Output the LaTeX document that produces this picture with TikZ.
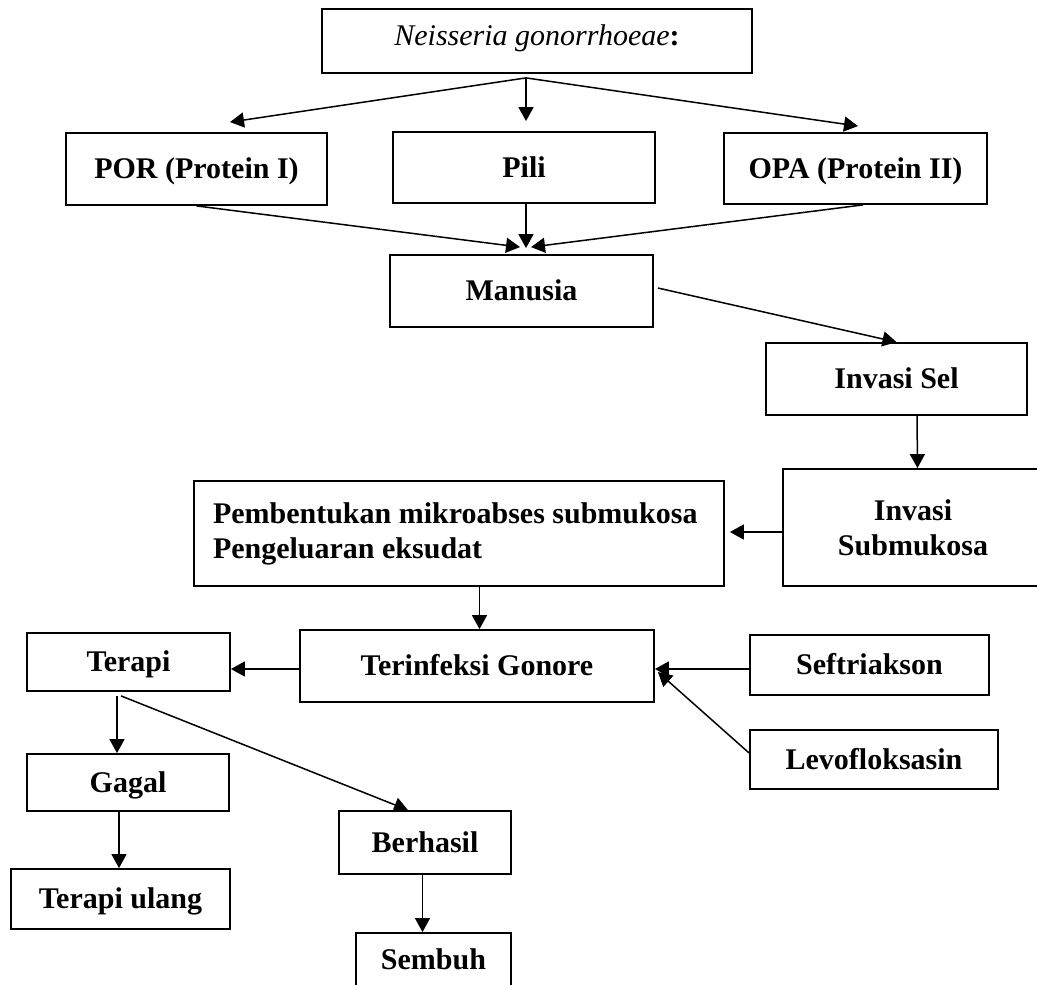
\documentclass[tikz,border=0pt]{standalone}
\usepackage{fontspec}
\setmainfont{Liberation Serif}
\usetikzlibrary{arrows.meta,calc}

\begin{document}
\begin{tikzpicture}[x=0.5pt,y=-0.5pt,
	box2/.style={draw,line width=0.9pt,inner sep=0pt,font=\fontsize{15}{17.5}\selectfont\bfseries},
	box/.style={box2,text height=13.5pt,text depth=3.6pt},
	arr/.style={line width=0.75pt,-{Triangle[length=7pt,width=7.5pt]}}]
	\useasboundingbox (0,0) rectangle (1037,984);

	\node[box,text depth=8.6pt,minimum width=215pt,minimum height=32pt] (neis) at (537,41) {{\mdseries\itshape Neisseria gonorrhoeae}:};
	\node[box,minimum width=130.5pt,minimum height=36pt] (por) at (196.5,169) {POR (Protein I)};
	\node[box,minimum width=131pt,minimum height=35.5pt] (pili) at (524,167.5) {Pili};
	\node[box,minimum width=131.5pt,minimum height=35.5pt] (opa) at (855.5,168.5) {OPA (Protein II)};
	\node[box,minimum width=131.5pt,minimum height=36pt] (manusia) at (521.5,291) {Manusia};
	\node[box,minimum width=130.5pt,minimum height=36pt] (invsel) at (896.5,379) {Invasi Sel};
	\node[box2,minimum width=130pt,minimum height=58.5pt,align=center] (invsub) at (913,527.5) {Invasi\\Submukosa};
	\node[box2,text width=246pt,inner xsep=9.5pt,minimum height=52.5pt,align=left] (pemb) at (459,533.5) {\spaceskip=0.25em Pembentukan mikroabses submukosa\\Pengeluaran eksudat};
	\node[box,minimum width=177pt,minimum height=36pt] (terinf) at (477,666) {Terinfeksi Gonore};
	\node[box,minimum width=101.5pt,minimum height=29pt] (terapi) at (128.5,662) {Terapi};
	\node[box,minimum width=119.5pt,minimum height=30pt] (seft) at (869.5,665) {Seftriakson};
	\node[box,minimum width=124pt,minimum height=29.5pt] (levo) at (874,759.5) {Levofloksasin};
	\node[box,minimum width=101pt,minimum height=28.5pt] (gagal) at (128,782.5) {Gagal};
	\node[box,minimum width=109.5pt,minimum height=30pt] (ulang) at (120.5,899) {Terapi ulang\hspace{7pt}};
	\node[box,minimum width=86pt,minimum height=31.5pt] (berhasil) at (425,842.5) {Berhasil\hspace{14.5pt}};
	\node[box,minimum width=77.5pt,minimum height=27pt] (sembuh) at (433.5,960) {Sembuh\hspace{8pt}};

	\coordinate (fork) at ($(neis.south)+(-11,4)$);
	\draw[arr] (fork) -- ($(por.north)+(33.5,-10)$);
	\draw[arr] (fork) -- ($(pili.north)+(2,-10)$);
	\draw[arr] (fork) -- ($(opa.north)+(2.5,-6)$);

	\draw[arr] (por.south) -- ($(manusia.north)+(-1.5,-7)$);
	\draw[arr] ($(pili.south)+(2,0)$) -- ($(manusia.north)+(4.5,-6)$);
	\draw[arr] ($(opa.south)+(7.5,0)$) -- ($(manusia.north)+(9.5,-7)$);
	\draw[arr] ($(manusia.east)+(4,-3)$) -- (invsel.north);
	\draw[arr] ($(invsel.south)+(20.5,0)$) -- ($(invsub.north)+(4.5,0)$);
	\draw[arr] ($(invsub.west)+(0,4.5)$) -- ($(pemb.east)+(5,-1.5)$);
	\draw[arr] ($(pemb.south)+(20.5,0)$) -- ($(terinf.north)+(2.5,0)$);
	\draw[arr] ($(terinf.west)+(0,3)$) -- ($(terapi.east)+(0,7)$);
	\draw[arr] ($(seft.west)+(0,4)$) -- ($(terinf.east)+(0,3)$);
	\draw[arr] ($(levo.west)+(0,-6.5)$) -- ($(terinf.east)+(3,6)$);

	\draw[arr] ($(terapi.south)+(-11.5,4)$) -- ($(gagal.north)+(-11,0)$);
	\draw[arr] ($(terapi.south)+(-7.5,4)$) -- ($(berhasil.north)+(-17,0)$);
	\draw[arr] ($(gagal.south)+(-9,0)$) -- ($(ulang.north)+(-1.5,0)$);
	\draw[arr] ($(berhasil.south)+(-2.5,0)$) -- ($(sembuh.north)+(-11,0)$);
\end{tikzpicture}
\end{document}
